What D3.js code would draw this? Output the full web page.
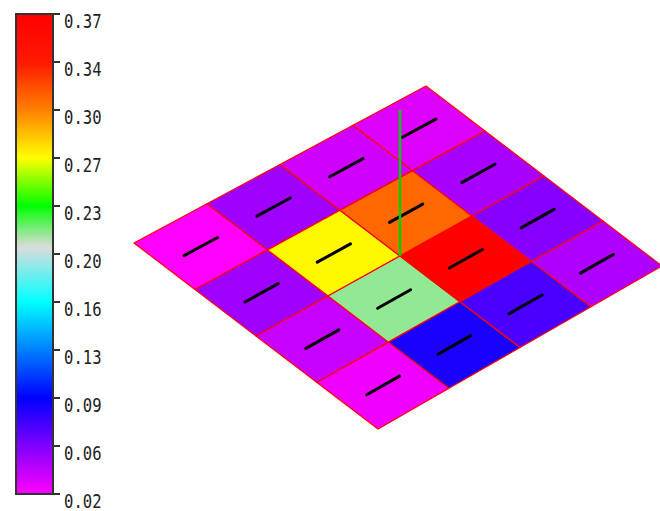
<!DOCTYPE html>
<html>
<head>
<meta charset="utf-8">
<script src="https://cdn.jsdelivr.net/npm/d3@7"></script>
<style>
  body { margin: 0; background: #fff; }
  svg { display: block; }
</style>
</head>
<body>
<div class="Canvas"></div>
<script>
// values per cell, rows go from the left edge down to the bottom edge,
// columns go from the left corner up to the top corner
const gridRows = [
    [0.020, 0.046, 0.033, 0.029],
    [0.046, 0.267, 0.308, 0.044],
    [0.035, 0.210, 0.370, 0.053],
    [0.024, 0.083, 0.070, 0.042]
];

// colour bar ticks
const tickValues = [0.02, 0.055, 0.09, 0.125, 0.16, 0.195, 0.23, 0.265, 0.30, 0.335, 0.37];
const tickLabels = ['0.02', '0.06', '0.09', '0.13', '0.16', '0.20', '0.23', '0.27', '0.30', '0.34', '0.37'];

// colour map stops
const stopValues = [0.02, 0.09, 0.16, 0.20, 0.23, 0.265, 0.30, 0.335, 0.37];
const stopColors = ['#ff00ff', '#0000ff', '#00ffff', '#dcdcdc', '#00ff00', '#ffff00', '#ff8000', '#ff1800', '#ff0000'];

const width = 660;
const height = 511;
const nCells = 4;

// corners of the plane on screen (left, top, right, bottom)
const corners = { L: [134, 243], T: [426, 86], R: [662, 266], B: [378, 429] };
const probeHeight = 146; // height of the green probe line

const svg = d3.select('.Canvas').append('svg').attr('width', width).attr('height', height);

const color = d3.scaleLinear().domain(stopValues).range(stopColors).clamp(true);

// ---------- colour bar ----------
const barX = 16, barW = 37;
const yBar = d3.scaleLinear().domain([0.02, 0.37]).range([494, 14]);

const defs = svg.append('defs');
const grad = defs.append('linearGradient')
    .attr('id', 'barGrad')
    .attr('x1', 0).attr('y1', 1).attr('x2', 0).attr('y2', 0);
d3.range(0, 101).forEach((k) => {
    const v = 0.02 + (0.37 - 0.02) * k / 100;
    grad.append('stop').attr('offset', `${k}%`).attr('stop-color', color(v));
});

svg.append('rect')
    .attr('x', barX).attr('y', yBar(0.37))
    .attr('width', barW).attr('height', yBar(0.02) - yBar(0.37))
    .attr('fill', 'url(#barGrad)')
    .attr('stroke', '#333').attr('stroke-width', 2);

const ticks = svg.append('g').selectAll('g').data(tickValues).enter().append('g');
ticks.append('line')
    .attr('x1', barX + barW).attr('x2', barX + barW + 7)
    .attr('y1', (d) => yBar(d)).attr('y2', (d) => yBar(d))
    .attr('stroke', '#333').attr('stroke-width', 2);
ticks.append('text')
    .attr('transform', (d) => `translate(64, ${yBar(d) + 14}) scale(0.82, 1.02)`)
    .attr('font-family', 'DejaVu Sans Mono')
    .attr('font-size', '19px')
    .attr('fill', '#222')
    .text((d, i) => tickLabels[i]);

// ---------- plane ----------
const sScale = d3.scaleLinear().domain([0, nCells]).range([0, 1]);
const tScale = d3.scaleLinear().domain([0, nCells]).range([0, 1]);

// bilinear map from grid coords to screen
function project(i, j) {
    const s = sScale(i), t = tScale(j);
    const { L, T, R, B } = corners;
    const x = (1 - s) * (1 - t) * L[0] + s * (1 - t) * T[0] + (1 - s) * t * B[0] + s * t * R[0];
    const y = (1 - s) * (1 - t) * L[1] + s * (1 - t) * T[1] + (1 - s) * t * B[1] + s * t * R[1];
    return [x, y];
}

let cells = [];
gridRows.forEach((row, j) => {
    row.forEach((v, i) => cells.push({ i: i, j: j, value: v }));
});

const plane = svg.append('g');
const line = d3.line();

plane.selectAll('path.cell')
    .data(cells)
    .enter()
    .append('path')
    .attr('class', 'cell')
    .attr('d', (d) => line([project(d.i, d.j), project(d.i + 1, d.j), project(d.i + 1, d.j + 1), project(d.i, d.j + 1)]) + 'Z')
    .attr('fill', (d) => color(d.value))
    .attr('stroke', '#ff0000')
    .attr('stroke-width', 1.2)
    .attr('stroke-linejoin', 'round');

// short black vector in each cell
plane.selectAll('path.vec')
    .data(cells)
    .enter()
    .append('path')
    .attr('class', 'vec')
    .attr('d', (d) => line([project(d.i + 0.27, d.j + 0.5), project(d.i + 0.73, d.j + 0.5)]))
    .attr('stroke', '#000')
    .attr('stroke-width', 3)
    .attr('stroke-linecap', 'round');

// green probe at the centre of the plane
const base = project(nCells / 2, nCells / 2);
plane.append('line')
    .attr('x1', base[0]).attr('x2', base[0])
    .attr('y1', base[1]).attr('y2', base[1] - probeHeight)
    .attr('stroke', '#00d000')
    .attr('stroke-width', 2.5);
</script>
</body>
</html>
